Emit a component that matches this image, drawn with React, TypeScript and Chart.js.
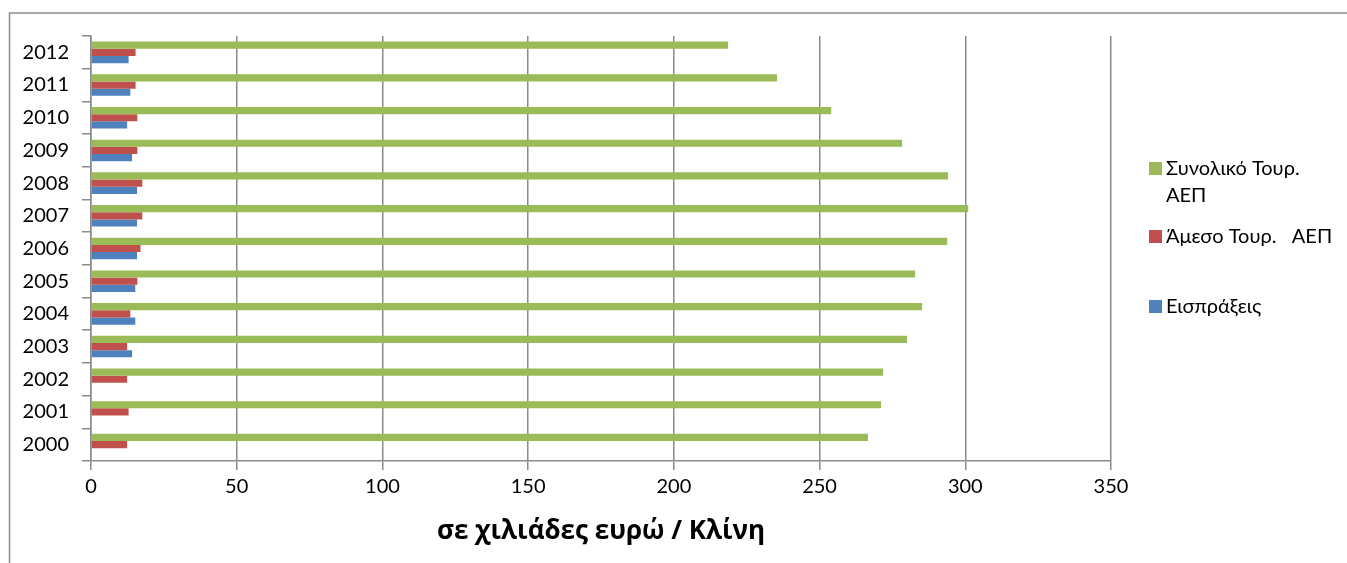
import React, { useEffect, useRef } from 'react';
import { Chart, registerables } from 'chart.js';

Chart.register(...registerables);

const years = ['2000', '2001', '2002', '2003', '2004', '2005', '2006', '2007', '2008', '2009', '2010', '2011', '2012'];
const totalGdp = [266.6, 271.1, 271.8, 280.0, 285.2, 282.8, 293.8, 301.0, 294.1, 278.3, 254.0, 235.4, 218.6];
const directGdp = [12.4, 12.9, 12.4, 12.4, 13.5, 15.9, 17.0, 17.6, 17.6, 15.9, 15.9, 15.3, 15.3];
const receipts = [null, null, null, 14.1, 15.2, 15.2, 15.8, 15.8, 15.8, 14.1, 12.4, 13.5, 12.9];
const seriesNames = ['Συνολικό Τουρ. ΑΕΠ', 'Άμεσο Τουρ.   ΑΕΠ', 'Εισπράξεις'];
const legendLines = [['Συνολικό Τουρ.', 'ΑΕΠ'], ['Άμεσο Τουρ.   ΑΕΠ'], ['Εισπράξεις']];
const seriesColors = ['#9BBB59', '#C0504D', '#4F81BD'];
const xMin = 0;
const xMax = 350;
const xStep = 50;
const xTitle = 'σε χιλιάδες ευρώ / Κλίνη';

const FONT = "Lato, 'Open Sans', 'Noto Sans', sans-serif";
const TITLE_FONT = "'Open Sans', 'Noto Sans', sans-serif";
const GRID = '#8a8a8a';

const framePlugin = {
  id: 'frameAndLegend',
  afterDraw(chart: any) {
    const ctx = chart.ctx;
    ctx.save();
    ctx.strokeStyle = '#8c8c8c';
    ctx.lineWidth = 1.5;
    ctx.beginPath();
    ctx.moveTo(9.5, 563);
    ctx.lineTo(9.5, 13);
    ctx.lineTo(1347, 13);
    ctx.stroke();

    const rows = [175, 243, 313];
    ctx.font = `20px ${FONT}`;
    ctx.textBaseline = 'alphabetic';
    ctx.textAlign = 'left';
    legendLines.forEach((lines, i) => {
      ctx.fillStyle = seriesColors[i];
      ctx.fillRect(1149, rows[i] - 13, 13, 13);
      ctx.fillStyle = '#000';
      lines.forEach((line, j) => {
        ctx.fillText(line, 1166, rows[i] + j * 27);
      });
    });
    ctx.restore();
  },
};

export default function App() {
  const ref = useRef<HTMLCanvasElement | null>(null);

  useEffect(() => {
    if (!ref.current) return;
    const chart = new Chart(ref.current, {
      type: 'bar',
      data: {
        labels: years,
        datasets: [
          { label: seriesNames[0], data: totalGdp, backgroundColor: seriesColors[0] },
          { label: seriesNames[1], data: directGdp, backgroundColor: seriesColors[1] },
          { label: seriesNames[2], data: receipts as any, backgroundColor: seriesColors[2] },
        ],
      },
      options: {
        indexAxis: 'y',
        responsive: false,
        animation: false,
        devicePixelRatio: 1,
        layout: { padding: { left: 10, top: 36, right: 236, bottom: 0 } },
        datasets: { bar: { categoryPercentage: 0.66, barPercentage: 1.0 } },
        plugins: {
          legend: { display: false },
          tooltip: { enabled: false },
          title: { display: false },
        },
        scales: {
          x: {
            type: 'linear',
            min: xMin,
            max: xMax,
            ticks: {
              stepSize: xStep,
              color: '#000',
              font: { family: FONT, size: 20 },
              padding: 5,
              maxRotation: 0,
            },
            grid: {
              color: GRID,
              lineWidth: 1.5,
              tickLength: 9,
              drawOnChartArea: true,
            },
            border: { color: GRID, width: 1.5 },
            title: {
              display: true,
              text: xTitle,
              color: '#000',
              font: { family: TITLE_FONT, size: 26, weight: 'bold' },
              padding: { top: 0, bottom: 16 },
            },
            afterFit: (s: any) => {
              s.height = 102;
            },
          },
          y: {
            type: 'category',
            reverse: true,
            offset: true,
            ticks: {
              color: '#000',
              font: { family: FONT, size: 20 },
              padding: 13,
            },
            grid: {
              offset: true,
              color: GRID,
              lineWidth: 1.5,
              tickLength: 9,
              drawOnChartArea: false,
            },
            border: { color: GRID, width: 1.5 },
            afterFit: (s: any) => {
              s.width = 81;
            },
          },
        },
      },
      plugins: [framePlugin],
    });
    return () => chart.destroy();
  }, []);

  return (
    <div style={{ position: 'fixed', left: 0, top: 0, width: 1347, height: 563, background: '#fff' }}>
      <canvas ref={ref} width={1347} height={563} style={{ display: 'block' }} />
    </div>
  );
}
